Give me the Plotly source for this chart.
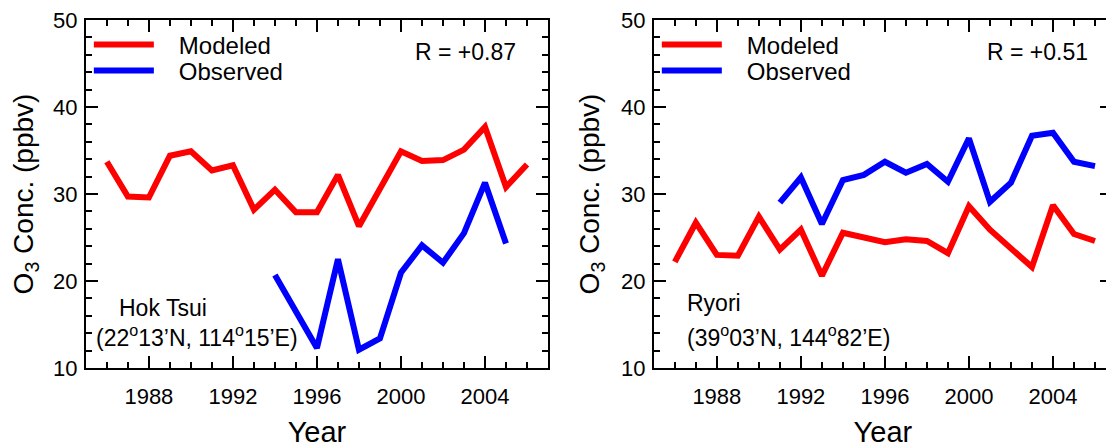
import plotly.graph_objects as go

# Page is rendered with the browser's default 8px body margin, so the figure
# is made 8px smaller and all pixel positions below are page pixels.
W, H = 1114, 448
OFF = 8
FW, FH = W - OFF, H - OFF

years = list(range(1986, 2007))

# Hok Tsui
hok_modeled = [33.7, 29.7, 29.6, 34.4, 34.9, 32.7, 33.3, 28.2, 30.5, 27.9, 27.9,
               32.2, 26.3, 30.5, 34.9, 33.8, 33.9, 35.1, 37.7, 30.8, 33.4]
hok_obs_years = list(range(1994, 2006))
hok_observed = [20.7, 16.5, 12.3, 22.5, 12.1, 13.4, 20.95, 24.1, 22.1, 25.5, 31.3, 24.3]

# Ryori
ryo_modeled = [22.2, 26.7, 23.0, 22.9, 27.4, 23.6, 25.9, 20.6, 25.55, 25.0, 24.45,
               24.8, 24.6, 23.2, 28.6, 25.9, 23.7, 21.6, 28.7, 25.4, 24.6]
ryo_obs_years = list(range(1991, 2007))
ryo_observed = [29.0, 31.9, 26.55, 31.6, 32.2, 33.7, 32.45, 33.45, 31.4, 36.4,
                29.1, 31.3, 36.7, 37.05, 33.7, 33.2]

series_names = ["Modeled", "Observed"]
r_labels = ["R = +0.87", "R = +0.51"]
station_names = ["Hok Tsui", "Ryori"]
station_coords = ["(22<sup>o</sup>13’N, 114<sup>o</sup>15’E)",
                  "(39<sup>o</sup>03’N, 144<sup>o</sup>82’E)"]
x_ticks = [1988, 1992, 1996, 2000, 2004]
y_ticks = [10, 20, 30, 40, 50]

FONT = "Liberation Sans, Arial, Helvetica, sans-serif"
RED = "#ff0000"
BLUE = "#0000ff"
LW = 6

# plot area (page pixels)
TOP, BOT = 20, 368
L1, R1 = 86, 549
L2, R2 = 655, W


def px(xp):
    return (xp - OFF) / FW


def py(yp):
    return (BOT - yp) / (BOT - TOP)


PAD = "\u00a0\u00a0\u00a0"

fig = go.Figure()
fig.add_trace(go.Scatter(x=years, y=hok_modeled, mode="lines", name=PAD + series_names[0],
                         line=dict(color=RED, width=LW), xaxis="x", yaxis="y",
                         legend="legend", showlegend=True))
fig.add_trace(go.Scatter(x=hok_obs_years, y=hok_observed, mode="lines", name=PAD + series_names[1],
                         line=dict(color=BLUE, width=LW), xaxis="x", yaxis="y",
                         legend="legend2", showlegend=True))
fig.add_trace(go.Scatter(x=years, y=ryo_modeled, mode="lines", name=PAD + series_names[0],
                         line=dict(color=RED, width=LW), xaxis="x2", yaxis="y2",
                         legend="legend3", showlegend=True))
fig.add_trace(go.Scatter(x=ryo_obs_years, y=ryo_observed, mode="lines", name=PAD + series_names[1],
                         line=dict(color=BLUE, width=LW), xaxis="x2", yaxis="y2",
                         legend="legend4", showlegend=True))

common_x = dict(
    tickmode="array", tickvals=x_ticks, ticks="inside", ticklen=12, tickwidth=2,
    tickcolor="black", showline=True, linecolor="black", linewidth=2,
    mirror="ticks", showgrid=False, zeroline=False, ticklabelstandoff=8,
    ticklabeloverflow="allow",
    tickfont=dict(size=22, color="black", family=FONT),
    minor=dict(dtick=1, ticks="inside", ticklen=6, tickwidth=1.5, tickcolor="black",
               showgrid=False),
    title=dict(text="Year", font=dict(size=29, color="black", family=FONT), standoff=15),
)
common_y = dict(
    range=[10, 50], tickmode="array", tickvals=y_ticks, ticks="inside", ticklen=12,
    tickwidth=2, tickcolor="black", showline=True, linecolor="black", linewidth=2,
    mirror="ticks", showgrid=False, zeroline=False, ticklabelstandoff=2,
    ticklabeloverflow="allow",
    tickfont=dict(size=22, color="black", family=FONT),
    minor=dict(dtick=2, ticks="inside", ticklen=6, tickwidth=1.5, tickcolor="black",
               showgrid=False),
    title=dict(text="O<sub>3</sub> Conc. (ppbv)", font=dict(size=28, color="black", family=FONT),
               standoff=13),
)

xa1 = dict(common_x); xa1.update(domain=[px(L1), px(R1)], range=[1985, 2007], anchor="y")
xa2 = dict(common_x); xa2.update(domain=[px(L2), 1.0],
                                 range=[1985, 1985 + (R2 - L2) * 22 / (R1 - L1)], anchor="y2")
ya1 = dict(common_y); ya1.update(domain=[0, 1], anchor="x")
ya2 = dict(common_y); ya2.update(domain=[0, 1], anchor="x2")

legend_common = dict(font=dict(size=24, color="black", family=FONT),
                     bgcolor="rgba(0,0,0,0)", borderwidth=0, xanchor="left",
                     yanchor="middle", itemwidth=60, visible=True)


def ann(text, x, y, anchor):
    return dict(text=text, x=px(x), y=py(y), xref="paper", yref="paper",
                showarrow=False, font=dict(size=23, family=FONT, color="black"),
                xanchor=anchor, yanchor="middle")


fig.update_layout(
    width=FW, height=FH,
    showlegend=True,
    margin=dict(l=0, r=0, t=TOP - OFF, b=H - BOT),
    paper_bgcolor="white", plot_bgcolor="white",
    font=dict(family=FONT, color="black"),
    xaxis=xa1, yaxis=ya1, xaxis2=xa2, yaxis2=ya2,
    legend=dict(legend_common, x=px(L1 + 3), y=py(45)),
    legend2=dict(legend_common, x=px(L1 + 3), y=py(71)),
    legend3=dict(legend_common, x=px(L2 + 3), y=py(45)),
    legend4=dict(legend_common, x=px(L2 + 3), y=py(71)),
    annotations=[
        ann(r_labels[0], 466, 52, "center"),
        ann(r_labels[1], 1039, 52, "center"),
        ann(station_names[0], 117, 308, "left"),
        ann(station_coords[0], 94, 336, "left"),
        ann(station_names[1], 686, 303, "left"),
        ann(station_coords[1], 686, 336, "left"),
    ],
)

fig.write_html("out.html")
